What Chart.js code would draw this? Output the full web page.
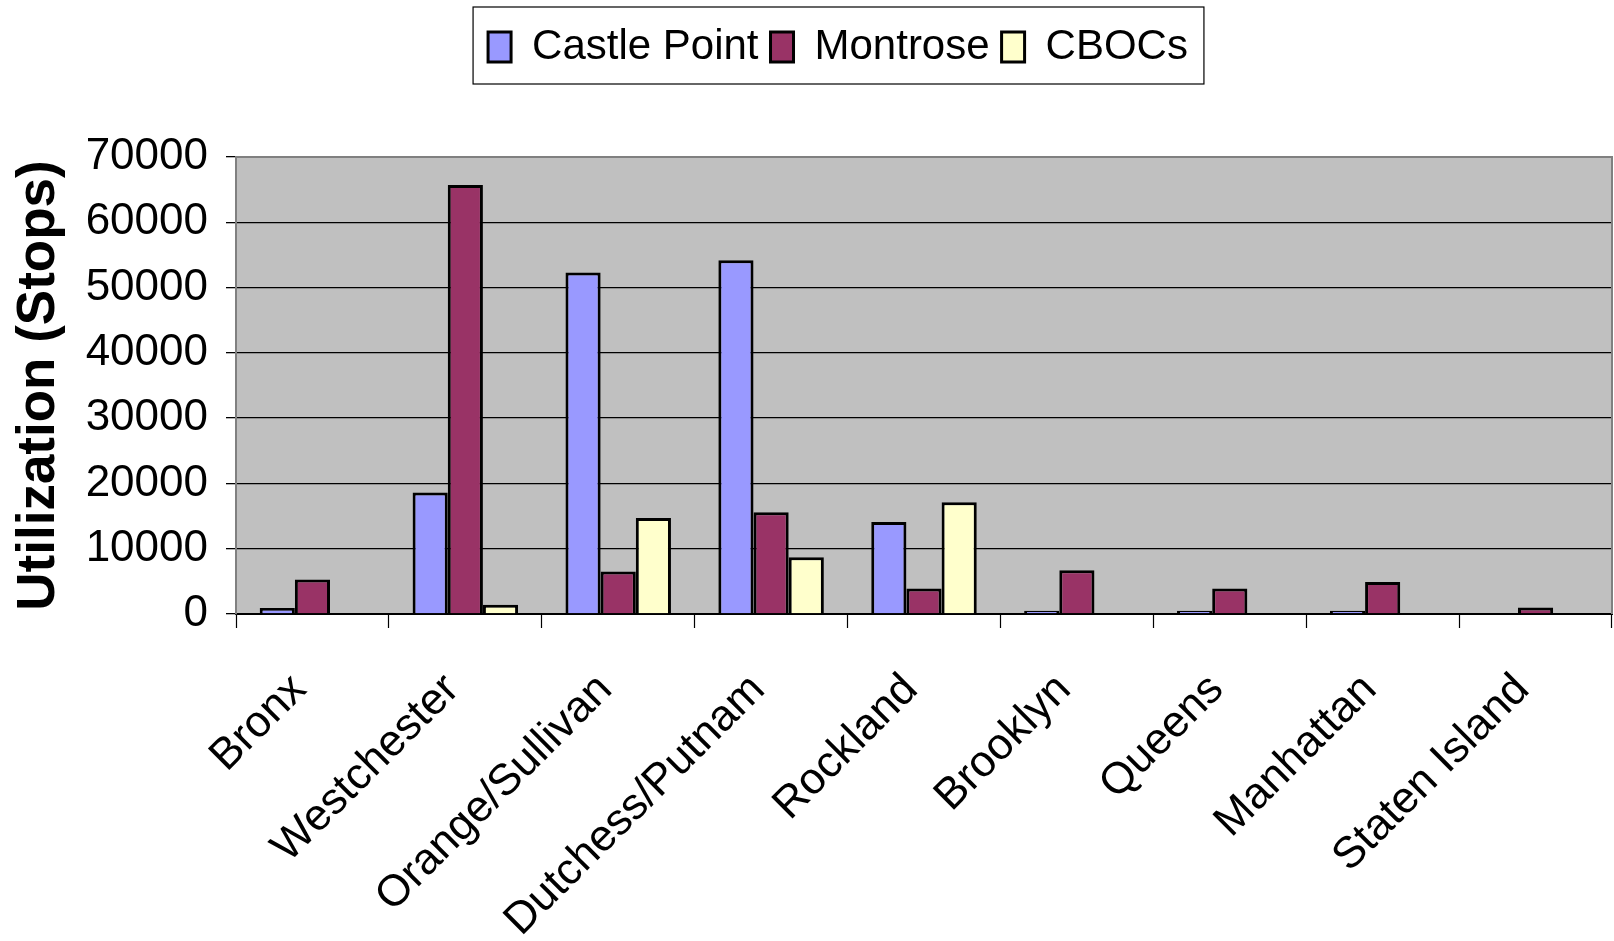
<!DOCTYPE html>
<html>
<head>
<meta charset="utf-8">
<script src="https://cdn.jsdelivr.net/npm/chart.js@4/dist/chart.umd.min.js"></script>
<style>
  body { margin: 0; background: #fff; }
  #wrap { width: 1614px; height: 941px; position: relative; }
</style>
</head>
<body>
<div id="wrap"><canvas id="barChart"></canvas></div>
<script>
var regions = ["Bronx", "Westchester", "Orange/Sullivan", "Dutchess/Putnam", "Rockland", "Brooklyn", "Queens", "Manhattan", "Staten Island"];
var castlePoint = [900, 18600, 52300, 54200, 14100, 500, 500, 500, 0];
var montrose = [5300, 65700, 6500, 15600, 3900, 6700, 3900, 4900, 1000];
var cbocs = [0, 1400, 14700, 8700, 17100, 0, 0, 0, 0];
var yTicks = [0, 10000, 20000, 30000, 40000, 50000, 60000, 70000];

var FONT = "'Liberation Sans', Arial, sans-serif";

// gray plot background + border, box round the legend
var excelLook = {
    id: 'excelLook',
    afterUpdate: function (chart) {
        // nudge legend a bit right, like the original
        var lg = chart.legend;
        lg.left += 32;
        lg.right += 32;
        lg.adjustHitBoxes();
    },
    beforeDraw: function (chart) {
        var a = chart.chartArea, c = chart.ctx;
        c.save();
        c.fillStyle = '#c0c0c0';
        c.fillRect(a.left, a.top, a.right - a.left, a.bottom - a.top);
        c.restore();
    },
    afterDraw: function (chart) {
        var a = chart.chartArea, c = chart.ctx;
        c.save();
        c.strokeStyle = '#808080';
        c.lineWidth = 2;
        c.beginPath();
        c.moveTo(a.left, a.bottom);
        c.lineTo(a.left, a.top);
        c.lineTo(a.right, a.top);
        c.lineTo(a.right, a.bottom);
        c.stroke();
        // legend frame
        var hb = chart.legend.legendHitBoxes;
        if (hb && hb.length) {
            var x0 = hb[0].left - 15, x1 = hb[hb.length - 1].left + hb[hb.length - 1].width + 16;
            var y0 = 7, y1 = 84;
            c.strokeStyle = '#000';
            c.lineWidth = 1.2;
            c.strokeRect(x0, y0, x1 - x0, y1 - y0);
        }
        c.restore();
    }
};

var ctx = document.getElementById('barChart').getContext('2d');
var chart = new Chart(ctx, {
    type: 'bar',
    data: {
        labels: regions,
        datasets: [{
            label: 'Castle Point',
            data: castlePoint,
            backgroundColor: '#9999ff',
            borderColor: '#000',
            borderWidth: 3
        }, {
            label: 'Montrose',
            data: montrose,
            backgroundColor: '#993366',
            borderColor: '#000',
            borderWidth: 3
        }, {
            label: 'CBOCs',
            data: cbocs,
            backgroundColor: '#ffffcc',
            borderColor: '#000',
            borderWidth: 3
        }]
    },
    options: {
        responsive: true,
        maintainAspectRatio: false,
        animation: false,
        devicePixelRatio: 1,
        layout: { padding: { top: 14, right: 2, left: 0, bottom: 0 } },
        datasets: {
            bar: { categoryPercentage: 0.69, barPercentage: 1.0 }
        },
        plugins: {
            tooltip: { enabled: false },
            legend: {
                display: true,
                position: 'top',
                labels: {
                    color: '#000',
                    font: { family: FONT, size: 42 },
                    boxWidth: 23,
                    boxHeight: 30,
                    padding: 12
                }
            },
            // empty spacer between legend and plot
            title: {
                display: true,
                text: '',
                weight: 500,
                font: { size: 10 },
                padding: { top: 0, bottom: 67 }
            }
        },
        scales: {
            x: {
                grid: {
                    offset: true,
                    drawOnChartArea: false,
                    color: '#000',
                    tickLength: 14,
                    tickWidth: 1.2
                },
                border: { color: '#000', width: 2 },
                ticks: {
                    color: '#000',
                    font: { family: FONT, size: 44 },
                    minRotation: 45,
                    maxRotation: 45,
                    padding: 36,
                    labelOffset: -13
                },
                afterFit: function (s) { s.height = 327; }
            },
            y: {
                min: 0,
                max: 70000,
                afterBuildTicks: function (s) {
                    s.ticks = yTicks.map(function (v) { return { value: v }; });
                },
                grid: {
                    color: '#000',
                    lineWidth: 1.3,
                    tickLength: 10
                },
                border: { color: '#808080', width: 2 },
                ticks: {
                    color: '#000',
                    font: { family: FONT, size: 44 },
                    padding: 18,
                    callback: function (v) { return String(v); }
                },
                title: {
                    display: true,
                    text: 'Utilization (Stops)',
                    color: '#000',
                    font: { family: FONT, size: 53, weight: 'bold' },
                    padding: { top: 8, bottom: 0 }
                },
                afterFit: function (s) { s.width = 236; }
            }
        }
    },
    plugins: [excelLook]
});
</script>
</body>
</html>
